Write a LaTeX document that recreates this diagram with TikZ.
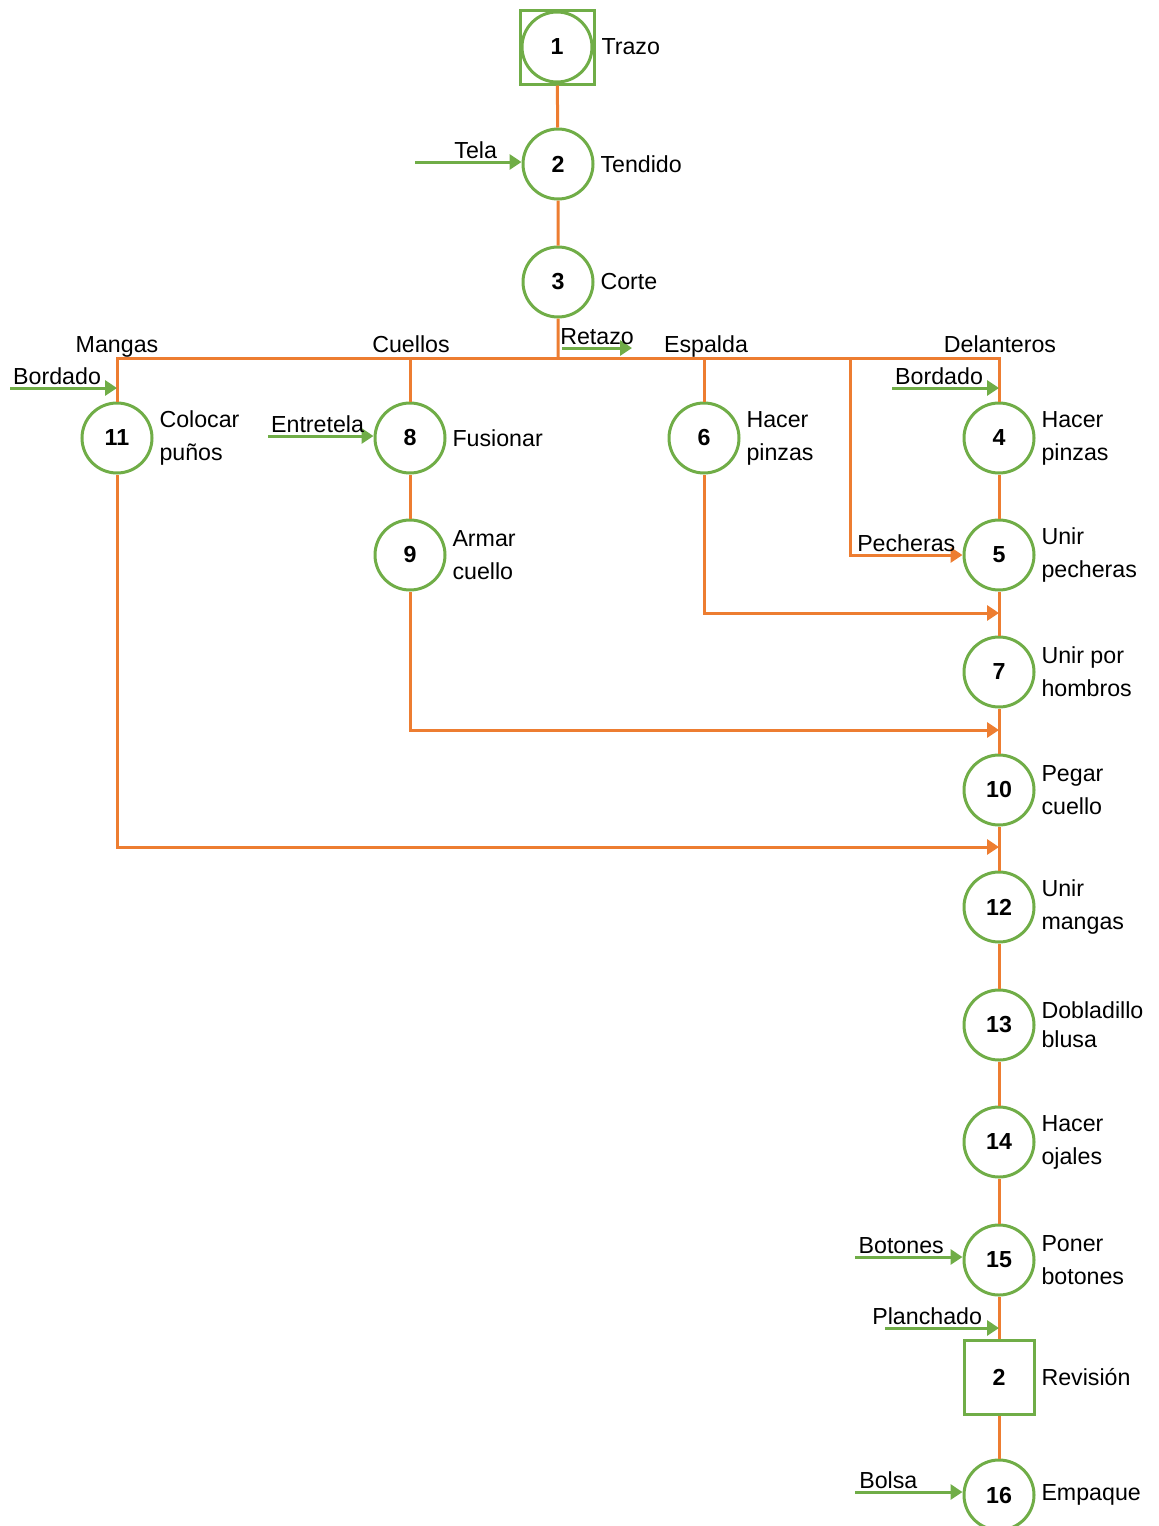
\documentclass[tikz,border=0pt]{standalone}
\usepackage{fontspec}
\setmainfont{Liberation Sans}
\usetikzlibrary{arrows.meta}
\definecolor{opgreen}{RGB}{112,173,71}
\definecolor{floworange}{RGB}{237,125,49}

\begin{document}
\begin{tikzpicture}[x=0.5pt,y=-0.5pt,>={Triangle[length=6pt,width=7.5pt]},
  every node/.style={font=\fontsize{11.6}{16.5}\selectfont},
  oper/.style={circle,draw=opgreen,line width=1.5pt,minimum size=35pt,
    inner sep=0pt,font=\fontsize{11.6}{14}\selectfont\bfseries},
  insp/.style={draw=opgreen,line width=1.5pt,minimum width=35pt,
    minimum height=37pt,inner sep=0pt,font=\fontsize{11.6}{14}\selectfont\bfseries},
  flow/.style={floworange,line width=1.5pt},
  supply/.style={->,opgreen,line width=1.5pt},
  desc/.style={anchor=west,align=left,inner sep=1pt,xshift=1.8pt},
  tag/.style={above,inner sep=1pt,text=black},
  part/.style={anchor=base}]
  \useasboundingbox (0,0) rectangle (1158,1526);

  % trazo, tendido, corte
  \node[oper] (n1) at (557,47) {1};
  \node[insp,minimum width=37pt] (sq1) at (n1) {};
  \node[desc] (t1) at (sq1.east) {Trazo};
  \node[oper] (n2) at (558,164) {2};
  \node[desc] (t2) at (n2.east) {Tendido};
  \node[oper] (n3) at (558,282) {3};
  \node[desc] (t3) at (n3.east) {Corte};

  % piezas
  \node[part] (mangas) at (117,352) {Mangas};
  \node[part] (cuellos) at (411,352) {Cuellos};
  \node[part] (espalda) at (706,352) {Espalda};
  \node[part] (delant) at (1000,352) {Delanteros};

  \node[oper] (n11) at (117,438) {11};
  \node[desc] (t11) at (n11.east) {Colocar\\puños};
  \node[oper] (n8) at (410,438) {8};
  \node[desc] (t8) at (n8.east) {Fusionar};
  \node[oper] (n9) at (410,555) {9};
  \node[desc] (t9) at (n9.east) {Armar\\cuello};
  \node[oper] (n6) at (704,438) {6};
  \node[desc] (t6) at (n6.east) {Hacer\\pinzas};

  % ensamble
  \node[oper] (n4) at (999,438) {4};
  \node[desc] (t4) at (n4.east) {Hacer\\pinzas};
  \node[oper] (n5) at (999,555) {5};
  \node[desc] (t5) at (n5.east) {Unir\\pecheras};
  \node[oper] (n7) at (999,672) {7};
  \node[desc] (t7) at (n7.east) {Unir por\\hombros};
  \node[oper] (n10) at (999,790) {10};
  \node[desc] (t10) at (n10.east) {Pegar\\cuello};
  \node[oper] (n12) at (999,907) {12};
  \node[desc] (t12) at (n12.east) {Unir\\mangas};
  \node[oper] (n13) at (999,1025) {13};
  \node[desc,font=\fontsize{11.6}{14.5}\selectfont] (t13) at (n13.east) {Dobladillo\\blusa};
  \node[oper] (n14) at (999,1142) {14};
  \node[desc] (t14) at (n14.east) {Hacer\\ojales};
  \node[oper] (n15) at (999,1260) {15};
  \node[desc] (t15) at (n15.east) {Poner\\botones};
  \node[insp] (rev) at (999,1377) {2};
  \node[desc] (trev) at (rev.east) {Revisión};
  \node[oper] (n16) at (999,1495) {16};
  \node[desc] (t16) at (n16.east) {Empaque};

  \coordinate (busL) at (117,358);
  \coordinate (busR) at (999,358);
  \coordinate (pech) at (850,358);
  \coordinate (j6) at (999,613);
  \coordinate (j9) at (999,730);
  \coordinate (j11) at (999,847);

  \draw[flow] (sq1) -- (n2) -- (n3) -- (n3 |- busL);
  \draw[flow] (n11) -- (busL) -- (busR) -- (n4);
  \draw[flow] (n8) -- (n8 |- busL);
  \draw[flow] (n6) -- (n6 |- busL);
  \draw[flow] (n8) -- (n9);
  \draw[flow] (n4) -- (n5) -- (n7) -- (n10) -- (n12) -- (n13) -- (n14)
    -- (n15) -- (rev) -- (n16);
  \draw[flow,->] (pech) |- (n5) node[tag,pos=.75] {Pecheras};
  \draw[flow,->] (n6) |- (j6);
  \draw[flow,->] (n9) |- (j9);
  \draw[flow,->] (n11) |- (j11);

  % insumos
  \coordinate (tela) at (415,162);
  \coordinate (bord1) at (10,388);
  \coordinate (entre) at (268,436);
  \coordinate (retazo) at (562,348);
  \coordinate (bord2) at (892,388);
  \coordinate (boton) at (855,1257);
  \coordinate (planch) at (885,1328);
  \coordinate (bolsa) at (855,1492);

  \draw[supply] (tela) -- (tela -| n2.west) node[tag,pos=.57] {Tela};
  \draw[supply] (bord1) -- (bord1 -| n11) node[tag,pos=.44] {Bordado};
  \draw[supply] (entre) -- (entre -| n8.west) node[tag,pos=.47] {Entretela};
  \draw[supply] (retazo) -- ++(70,0) node[tag,pos=.5] {Retazo};
  \draw[supply] (bord2) -- (bord2 -| n4) node[tag,pos=.44] {Bordado};
  \draw[supply] (boton) -- (boton -| n15.west) node[tag,pos=.43] {Botones};
  \draw[supply] (planch) -- (planch -| rev) node[tag,pos=.37] {Planchado};
  \draw[supply] (bolsa) -- (bolsa -| n16.west) node[tag,pos=.31] {Bolsa};
\end{tikzpicture}
\end{document}
